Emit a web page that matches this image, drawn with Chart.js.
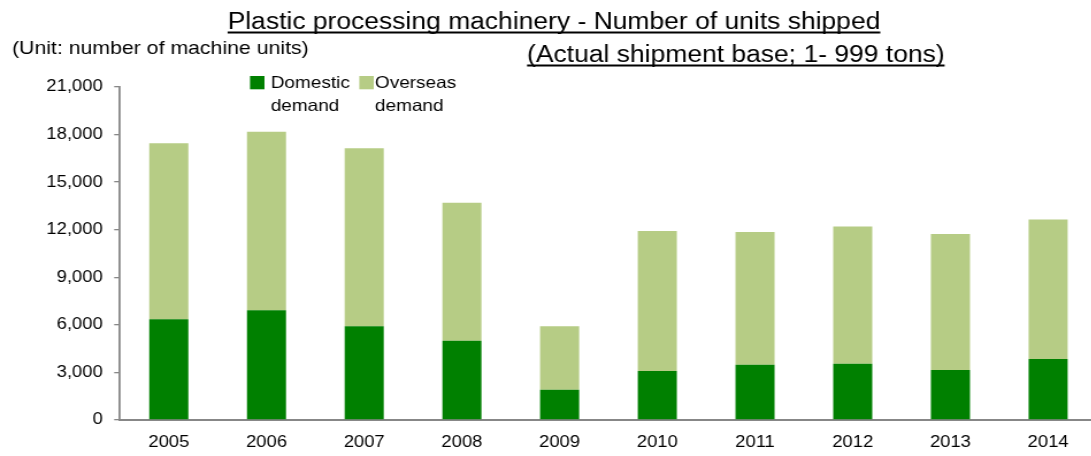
<!DOCTYPE html>
<html>
<head>
<meta charset="utf-8">
<script src="https://cdn.jsdelivr.net/npm/chart.js@4/dist/chart.umd.min.js"></script>
<style>
  html, body { margin: 0; padding: 0; overflow: hidden; background: #fff; }
  #wrap { width: 1091px; height: 456px; overflow: hidden; position: relative; }
  /* the drawing is laid out narrow and widened horizontally */
  #c { transform: scaleX(1.15); transform-origin: 0 0; }
</style>
</head>
<body>
<div id="wrap"><canvas id="c" width="957" height="456" style="width:957px;height:456px"></canvas></div>
<script>
// Shipments of plastic processing machinery (1 - 999 tons), machine units
const years = ['2005', '2006', '2007', '2008', '2009', '2010', '2011', '2012', '2013', '2014'];
const domestic = [6350, 6920, 5910, 5000, 1910, 3090, 3490, 3550, 3150, 3850];
const overseas = [11100, 11260, 11220, 8700, 4000, 8830, 8370, 8660, 8580, 8800];
const yTicks = [0, 3000, 6000, 9000, 12000, 15000, 18000, 21000];

const titleText = 'Plastic processing machinery - Number of units shipped';
const subtitleText = '(Actual shipment base; 1- 999 tons)';
const unitText = '(Unit: number of machine units)';
const domesticLabel = ['Domestic', 'demand'];
const overseasLabel = ['Overseas', 'demand'];

const FONT = '"Liberation Sans", Arial, Helvetica, sans-serif';
const AXIS = '#878787';
const GREEN = '#008000';
const LIGHT = '#B6CC85';

Chart.defaults.font.family = FONT;
Chart.defaults.color = '#000';

// Headings, unit note and two-line legend drawn on top of the chart
const annotations = {
  id: 'annotations',
  afterDraw(chart) {
    const ctx = chart.ctx;
    ctx.save();
    ctx.fillStyle = '#000';
    ctx.textBaseline = 'alphabetic';

    const underlined = (text, x, y, align, size, lineY) => {
      ctx.font = size + 'px ' + FONT;
      ctx.textAlign = align;
      ctx.fillText(text, x, y);
      const w = ctx.measureText(text).width;
      const x0 = align === 'center' ? x - w / 2 : x;
      ctx.fillRect(x0, lineY, w, 2);
    };
    underlined(titleText, 481.7, 29.3, 'center', 23, 31.5);
    underlined(subtitleText, 458.3, 62, 'left', 23, 64.5);

    ctx.font = '18.5px ' + FONT;
    ctx.textAlign = 'left';
    ctx.fillText(unitText, 10.4, 54);

    const ds = chart.data.datasets;
    const legendItems = [
      { color: ds[0].backgroundColor, lines: domesticLabel, box: 217.4, text: 235.4 },
      { color: ds[1].backgroundColor, lines: overseasLabel, box: 312.4, text: 326.1 }
    ];
    ctx.font = '16.5px ' + FONT;
    legendItems.forEach(item => {
      ctx.fillStyle = item.color;
      ctx.fillRect(item.box, 76, 12.6, 13.3);
      ctx.fillStyle = '#000';
      item.lines.forEach((ln, i) => ctx.fillText(ln, item.text, 88 + i * 22.5));
    });
    ctx.restore();
  }
};

new Chart(document.getElementById('c'), {
  type: 'bar',
  data: {
    labels: years,
    datasets: [
      { label: domesticLabel.join(' '), data: domestic, backgroundColor: GREEN },
      { label: overseasLabel.join(' '), data: overseas, backgroundColor: LIGHT }
    ]
  },
  options: {
    responsive: false,
    animation: false,
    events: [],
    layout: { padding: { top: 87, right: 3.1, bottom: 4, left: 0 } },
    datasets: { bar: { barPercentage: 0.4, categoryPercentage: 1 } },
    plugins: { legend: { display: false }, title: { display: false }, tooltip: { enabled: false } },
    scales: {
      x: {
        stacked: true,
        afterFit(scale) { scale.height = 32; },
        grid: { display: false, drawTicks: false },
        border: { display: true, color: AXIS, width: 2 },
        ticks: { font: { size: 16 }, color: '#000', padding: 13, maxRotation: 0 }
      },
      y: {
        stacked: true,
        min: 0,
        max: 21000,
        afterFit(scale) { scale.width = 104.3; },
        afterBuildTicks(scale) { scale.ticks = yTicks.map(v => ({ value: v })); },
        grid: { drawOnChartArea: false, drawTicks: true, tickLength: 5, color: AXIS, lineWidth: 1.3 },
        border: { display: true, color: AXIS, width: 1.8 },
        ticks: {
          font: { size: 16 },
          color: '#000',
          padding: 10,
          callback: v => Number(v).toLocaleString('en-US')
        }
      }
    }
  },
  plugins: [annotations]
});
</script>
</body>
</html>
